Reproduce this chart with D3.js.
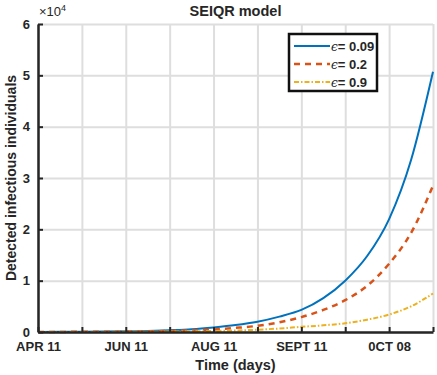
<!DOCTYPE html>
<html>
<head>
<meta charset="utf-8">
<script src="https://cdn.jsdelivr.net/npm/d3@7"></script>
<style>
  body { margin: 0; background: #fff; }
  svg { display: block; font-family: 'Liberation Sans', Arial, sans-serif; }
  .tick text { font-size: 13px; font-weight: bold; fill: #262626; }
  .grid line { stroke: #dedede; stroke-width: 2; }
  .grid path { display: none; }
</style>
</head>
<body>
<div id="chart"></div>
<script>
// days since APR 11
const days = [0, 10, 20, 30, 40, 50, 60, 70, 80, 90, 100, 110, 120, 130, 140, 150, 160, 170, 180];

// detected infectious individuals
const eps009 = [20, 30, 50, 80, 130, 200, 350, 550, 900, 1350, 2000, 3000, 4300, 6600, 10000, 14800, 22000, 33500, 50700];
const eps02 = [10, 20, 30, 50, 80, 120, 200, 300, 500, 800, 1200, 1900, 2900, 4300, 6200, 9000, 13300, 19300, 28500];
const eps09 = [5, 8, 12, 20, 30, 50, 80, 120, 200, 300, 450, 680, 1000, 1300, 1700, 2400, 3400, 5000, 7500];

const xTicks = [0, 20, 40, 60, 80, 100, 120, 140, 160, 180];
const xTickLabels = { 0: 'APR 11', 40: 'JUN 11', 80: 'AUG 11', 120: 'SEPT 11', 160: '0CT 08' };
const yTicks = [0, 10000, 20000, 30000, 40000, 50000, 60000];

const series = [
  { label: '0.09', values: eps009, color: '#0072bd', width: 2, dash: null },
  { label: '0.2', values: eps02, color: '#d95319', width: 2.5, dash: '6,5' },
  { label: '0.9', values: eps09, color: '#edb120', width: 2, dash: '5,2,1.5,2' }
];

const W = 437, H = 375;
const margin = { top: 24, right: 4, bottom: 43, left: 38 };
const width = W - margin.left - margin.right;
const height = H - margin.top - margin.bottom;

const svg = d3.select('#chart').append('svg')
  .attr('width', W)
  .attr('height', H);

const vis = svg.append('g')
  .attr('transform', 'translate(' + margin.left + ',' + margin.top + ')');

const xScale = d3.scaleLinear().domain([0, 180]).range([0, width]);
const yScale = d3.scaleLinear().domain([0, 60000]).range([height, 0]);

// grid
vis.append('g')
  .attr('class', 'grid')
  .call(d3.axisBottom(xScale).tickValues(xTicks).tickSize(height).tickFormat(''));

vis.append('g')
  .attr('class', 'grid')
  .call(d3.axisLeft(yScale).tickValues(yTicks).tickSize(-width).tickFormat(''));

// lines
const line = d3.line()
  .x(function(d, i) { return xScale(days[i]); })
  .y(function(d) { return yScale(d); })
  .curve(d3.curveMonotoneX);

series.map((s) => {
  vis.append('path')
    .datum(s.values)
    .attr('fill', 'none')
    .attr('stroke', s.color)
    .attr('stroke-width', s.width)
    .attr('stroke-dasharray', s.dash)
    .attr('d', line);
});

// axes
const xAxis = vis.append('g')
  .attr('transform', 'translate(0,' + height + ')')
  .call(d3.axisBottom(xScale).tickValues(xTicks).tickSizeInner(-5).tickSizeOuter(0).tickPadding(10)
    .tickFormat(function(d) { return xTickLabels[d] || ''; }));

const yAxis = vis.append('g')
  .call(d3.axisLeft(yScale).tickValues(yTicks).tickSizeInner(-5).tickSizeOuter(0).tickPadding(8)
    .tickFormat(function(d) { return d / 10000; }));

[xAxis, yAxis].map((a) => {
  a.select('.domain').attr('stroke', '#262626').attr('stroke-width', 2.5);
  a.selectAll('.tick line').attr('stroke', '#262626').attr('stroke-width', 2);
});

// exponent label
const expo = svg.append('text')
  .attr('x', 39)
  .attr('y', 16)
  .attr('font-size', 13)
  .attr('fill', '#262626');
expo.append('tspan').text('\u00d710');
expo.append('tspan').attr('font-size', 9).attr('dy', -5).text('4');

// title and labels
svg.append('text')
  .attr('x', margin.left + width / 2)
  .attr('y', 16)
  .attr('text-anchor', 'middle')
  .attr('font-size', 14.5)
  .attr('font-weight', 'bold')
  .attr('fill', '#262626')
  .text('SEIQR model');

svg.append('text')
  .attr('x', margin.left + width / 2)
  .attr('y', 370)
  .attr('text-anchor', 'middle')
  .attr('font-size', 14.5)
  .attr('font-weight', 'bold')
  .attr('fill', '#262626')
  .text('Time (days)');

svg.append('text')
  .attr('transform', 'rotate(-90)')
  .attr('x', -(margin.top + height / 2))
  .attr('y', 16)
  .attr('text-anchor', 'middle')
  .attr('font-size', 14)
  .attr('font-weight', 'bold')
  .attr('fill', '#262626')
  .text('Detected infectious individuals');

// legend
const legend = svg.append('g').attr('transform', 'translate(289,34)');

legend.append('rect')
  .attr('width', 88)
  .attr('height', 57)
  .attr('fill', '#fff')
  .attr('stroke', '#111')
  .attr('stroke-width', 2.5);

series.map((s, i) => {
  const ly = 12 + i * 18;
  legend.append('line')
    .attr('x1', 5)
    .attr('x2', 41)
    .attr('y1', ly)
    .attr('y2', ly)
    .attr('stroke', s.color)
    .attr('stroke-width', s.width)
    .attr('stroke-dasharray', s.dash);

  const t = legend.append('text')
    .attr('x', 42)
    .attr('y', ly + 5)
    .attr('font-size', 13)
    .attr('fill', '#262626');
  t.append('tspan')
    .attr('font-family', 'DejaVu Serif, serif')
    .attr('font-style', 'italic')
    .attr('font-size', 12)
    .text('\u03f5');
  t.append('tspan')
    .attr('font-weight', 'bold')
    .text('= ' + s.label);
});
</script>
</body>
</html>
